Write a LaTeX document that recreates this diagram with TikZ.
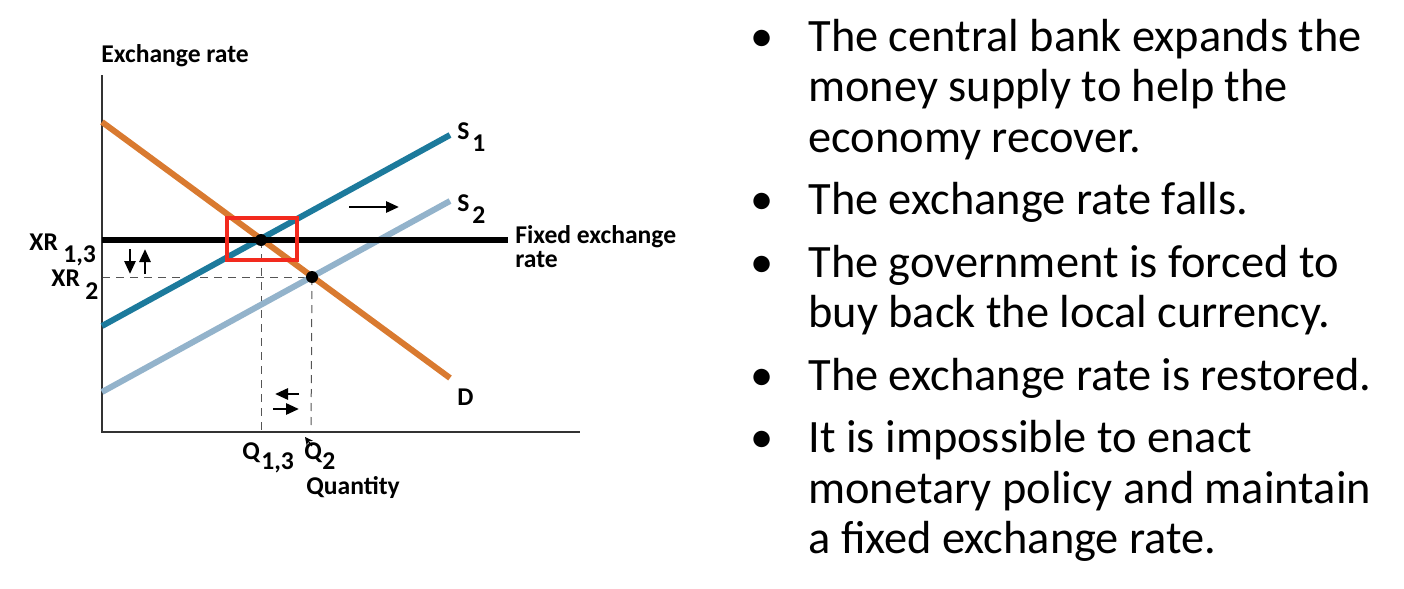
\documentclass[tikz,border=0pt]{standalone}
\usepackage{fontspec}
\setmainfont{Carlito}
\usetikzlibrary{arrows.meta}
\definecolor{dcol}{HTML}{D97A30}
\definecolor{sone}{HTML}{1C7A9C}
\definecolor{stwo}{HTML}{93B3CB}
\definecolor{rbox}{HTML}{F22A1E}
\definecolor{dgrey}{HTML}{555555}
\tikzset{
  lbl/.style={inner sep=0pt, anchor=base west, font=\fontsize{12.8}{14}\selectfont\bfseries},
  btxt/.style={inner sep=0pt, anchor=base west, font=\fontsize{23.2}{26}\selectfont},
  curve/.style={line width=3pt, line cap=butt},
  axisline/.style={line width=0.7pt, black!80},
  guide/.style={dash pattern=on 4pt off 3pt, line width=0.5pt, dgrey},
  movearrow/.style={line width=1.4pt, -{Triangle[length=6.5pt,width=5.5pt]}},
  eqdot/.style={circle, fill=black, inner sep=0pt, minimum size=6pt}
}
\begin{document}
\begin{tikzpicture}[x=0.5pt,y=-0.5pt]
\useasboundingbox (0,0) rectangle (1404,589);
% coordinates
\coordinate (O) at (102,432);
\coordinate (Ytop) at (102,75);
\coordinate (Xend) at (580,432);
\coordinate (D0) at (102,122);
\coordinate (D1) at (450,378);
\coordinate (S1a) at (102,326);
\coordinate (S1b) at (450,135);
\coordinate (S2a) at (102,392);
\coordinate (S2b) at (450,201);
\coordinate (F0) at (102,240);
\coordinate (F1) at (508,240);
\coordinate (E1) at (261,240);
\coordinate (E2) at (312,277);
\coordinate (XRtwo) at (102,277);
\coordinate (Qa) at (261,432);
\coordinate (Qb) at (311,432);
% guides
\draw[guide] (XRtwo) -- (E2);
\draw[guide] (E1) -- (Qa);
\draw[guide] (E2) -- (Qb);
% axes
\draw[axisline] (Ytop) -- (O) -- (Xend);
% curves
\draw[curve, stwo] (S2a) -- (S2b);
\draw[curve, sone] (S1a) -- (S1b);
\draw[curve, dcol] (D0) -- (D1);
\draw[curve, black] (F0) -- (F1);
% red box
\draw[rbox, line width=2pt] (227,218) rectangle (297,260);
% dots
\node[eqdot] (dot1) at (E1) {};
\node[eqdot] (dot2) at (E2) {};
% arrows
\coordinate (ra0) at (349,207); \coordinate (ra1) at (399,207);
\draw[movearrow] (ra0) -- (ra1);
\coordinate (da0) at (130,249); \coordinate (da1) at (130,274);
\draw[movearrow] (da0) -- (da1);
\coordinate (ua0) at (145,274); \coordinate (ua1) at (145,249);
\draw[movearrow] (ua0) -- (ua1);
\coordinate (la0) at (299,394); \coordinate (la1) at (275,394);
\draw[movearrow] (la0) -- (la1);
\coordinate (rb0) at (273,409); \coordinate (rb1) at (299,409);
\draw[movearrow] (rb0) -- (rb1);
\coordinate (pa0) at (312,446); \coordinate (pa1) at (305,437);
\draw[line width=0.6pt, -{Stealth[length=4pt,width=4pt]}] (pa0) -- (pa1);
% chart labels
\node[lbl] (ylab) at (101,62) {Exchange rate};
\node[lbl] (s1S) at (457,139) {S};
\node[lbl] (s1n) at (472,151) {1};
\node[lbl] (s2S) at (457,211) {S};
\node[lbl] (s2n) at (472,223) {2};
\node[lbl, align=left, anchor=north west, font=\fontsize{12.8}{12.2}\selectfont\bfseries] (fx) at (515,225) {Fixed exchange\\rate};
\node[lbl] (dl) at (457,405) {D};
\node[lbl] (xr1) at (29,250) {XR};
\node[lbl] (xr1s) at (63,262) {1,3};
\node[lbl] (xr2) at (51,286) {XR};
\node[lbl] (xr2s) at (85,299) {2};
\node[lbl] (q1) at (242,459) {Q};
\node[lbl] (q1s) at (261,469) {1,3};
\node[lbl] (q2) at (304,459) {Q};
\node[lbl] (q2s) at (322,469) {2};
\node[lbl] (qlab) at (306,494) {Quantity};
% bullets
\node[btxt] (b1) at (750,51) {•};
\node[btxt] (t1a) at (808,51) {The central bank expands the};
\node[btxt] (t1b) at (808,101) {money supply to help the};
\node[btxt] (t1c) at (808,152) {economy recover.};
\node[btxt] (b2) at (750,214) {•};
\node[btxt] (t2a) at (808,214) {The exchange rate falls.};
\node[btxt] (b3) at (750,277) {•};
\node[btxt] (t3a) at (808,277) {The government is forced to};
\node[btxt] (t3b) at (808,327) {buy back the local currency.};
\node[btxt] (b4) at (750,390) {•};
\node[btxt] (t4a) at (808,390) {The exchange rate is restored.};
\node[btxt] (b5) at (750,452) {•};
\node[btxt] (t5a) at (808,452) {It is impossible to enact};
\node[btxt] (t5b) at (808,503) {monetary policy and maintain};
\node[btxt] (t5c) at (808,553) {a fixed exchange rate.};
\end{tikzpicture}
\end{document}
